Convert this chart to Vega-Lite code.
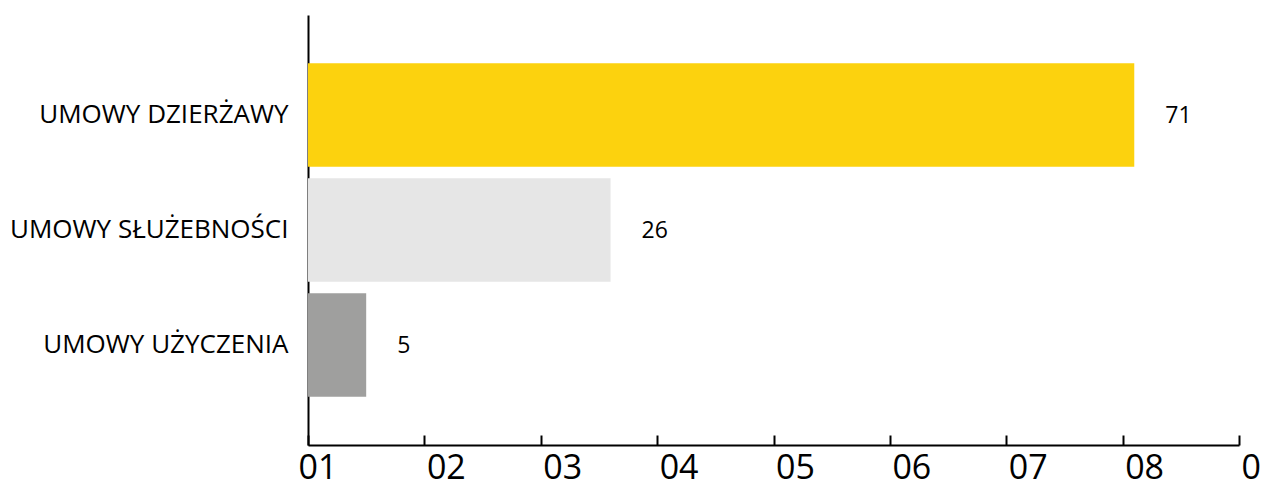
{
  "$schema": "https://vega.github.io/schema/vega-lite/v6.json",
  "autosize": "none",
  "width": 931,
  "height": 430,
  "padding": {"left": 308, "top": 15, "right": 24, "bottom": 40},
  "background": "white",
  "config": {"view": {"stroke": null}, "font": "Open Sans"},
  "data": {"values": [
    {"kategoria": "UMOWY DZIERŻAWY", "liczba": 71},
    {"kategoria": "UMOWY SŁUŻEBNOŚCI", "liczba": 26},
    {"kategoria": "UMOWY UŻYCZENIA", "liczba": 5}
  ]},
  "encoding": {
    "y": {"field": "kategoria", "type": "nominal", "sort": null,
      "scale": {"paddingInner": 0.1, "paddingOuter": 0.42},
      "axis": {"title": null, "ticks": false, "domainColor": "black", "domainWidth": 2,
        "labelFont": "Open Sans", "labelFontSize": 26, "labelColor": "black", "labelPadding": 20, "labelLimit": 400}},
    "x": {"field": "liczba", "type": "quantitative",
      "scale": {"domain": [0, 80], "nice": false},
      "axis": {"title": null, "grid": false, "values": [0, 10, 20, 30, 40, 50, 60, 70, 80],
        "domainColor": "black", "domainWidth": 2, "tickColor": "black", "tickWidth": 2, "tickSize": -10,
        "labelExpr": "datum.value == 80 ? '0' : '0' + (datum.value / 10 + 1)",
        "labelFont": "Open Sans", "labelFontSize": 34, "labelColor": "black", "labelPadding": 16,
        "labelAlign": "left", "labelOffset": {"expr": "datum.value == 0 ? -10 : 2"}, "labelFlush": false, "labelOverlap": false}}
  },
  "layer": [
    {"mark": {"type": "bar"},
      "encoding": {"color": {"field": "kategoria", "type": "nominal", "legend": null,
        "scale": {"domain": ["UMOWY DZIERŻAWY", "UMOWY SŁUŻEBNOŚCI", "UMOWY UŻYCZENIA"], "range": ["#FCD20E", "#E6E6E6", "#9F9F9E"]}}}},
    {"mark": {"type": "text", "align": "left", "baseline": "middle", "dx": 31, "dy": 1, "fontSize": 23, "font": "Open Sans", "color": "black"},
      "encoding": {"text": {"field": "liczba", "type": "quantitative"}}}
  ]
}
